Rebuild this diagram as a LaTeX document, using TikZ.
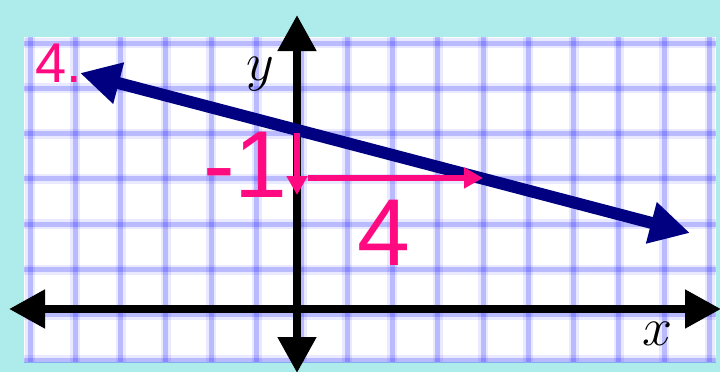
\RequirePackage{fix-cm}
\documentclass[tikz,border=0pt]{standalone}
\usepackage{fontspec}
\newfontfamily\labfont{Liberation Sans}
\usetikzlibrary{arrows.meta}
\definecolor{bgcyan}{RGB}{174,236,236}
\definecolor{gridblue}{RGB}{40,40,255}
\definecolor{navyline}{RGB}{0,0,128}
\definecolor{pinklab}{RGB}{255,10,128}
\tikzset{
  x=1pt, y=-1pt,
  gridline/.style={draw=gridblue, opacity=0.1, line width=10pt},
  gridcore/.style={draw=gridblue, opacity=0.24, line width=5pt},
  axisline/.style={draw=black, line width=8pt, {Triangle[length=36pt,width=37pt]}-{Triangle[length=36pt,width=37pt]}},
  graphline/.style={draw=navyline, line width=12pt, {Triangle[length=40pt,width=40pt]}-{Triangle[length=40pt,width=40pt]}},
  steparrow/.style={draw=pinklab, line width=5.5pt, -{Triangle[length=19pt,width=20pt]}},
  biglabel/.style={text=pinklab, inner sep=0pt, font=\labfont\fontsize{95}{100}\selectfont},
  numlabel/.style={text=pinklab, inner sep=0pt, font=\labfont\fontsize{56}{60}\selectfont},
  axislabel/.style={inner sep=0pt, font=\fontsize{54}{60}\selectfont}
}
\begin{document}
\begin{tikzpicture}
\useasboundingbox (0,0) rectangle (720,372);
\fill[bgcyan] (0,0) rectangle (720,372);
\fill[white] (24,37) rectangle (716,362);
\begin{scope}
\clip (24,37) rectangle (716,362);
\foreach \k in {0,...,15} {
  \draw[gridline] ({30+45.3*\k},37) -- ({30+45.3*\k},362);
  \draw[gridcore] ({30+45.3*\k},37) -- ({30+45.3*\k},362);
}
\foreach \k in {0,...,7} {
  \draw[gridline] (24,{43+45.3*\k}) -- (716,{43+45.3*\k});
  \draw[gridcore] (24,{43+45.3*\k}) -- (716,{43+45.3*\k});
}
\end{scope}
% axes
\coordinate (xl) at (9,309);
\coordinate (xr) at (721,309);
\coordinate (yt) at (297,15);
\coordinate (yb) at (297,373);
\draw[axisline] (xl) -- (xr);
\draw[axisline] (yb) -- (yt);
% graph line
\coordinate (gl) at (80,73);
\coordinate (gr) at (690,233);
\draw[graphline] (gl) -- (gr);
% slope arrows
\coordinate (d0) at (297,133);
\coordinate (d1) at (297,195);
\coordinate (r0) at (308,178);
\coordinate (r1) at (483,178);
\draw[steparrow] (d0) -- (d1);
\draw[steparrow] (r0) -- (r1);
% labels
\node[numlabel, anchor=base west] (num) at (35,82.5) {4.};
\node[biglabel, anchor=base west] (rise) at (203,197) {-1};
\node[biglabel, anchor=base west] (run) at (357.5,265) {4};
\node[axislabel, anchor=base west] (ylab) at (246,80) {$y$};
\node[axislabel, anchor=base west] (xlab) at (642,345) {$x$};
\end{tikzpicture}
\end{document}
